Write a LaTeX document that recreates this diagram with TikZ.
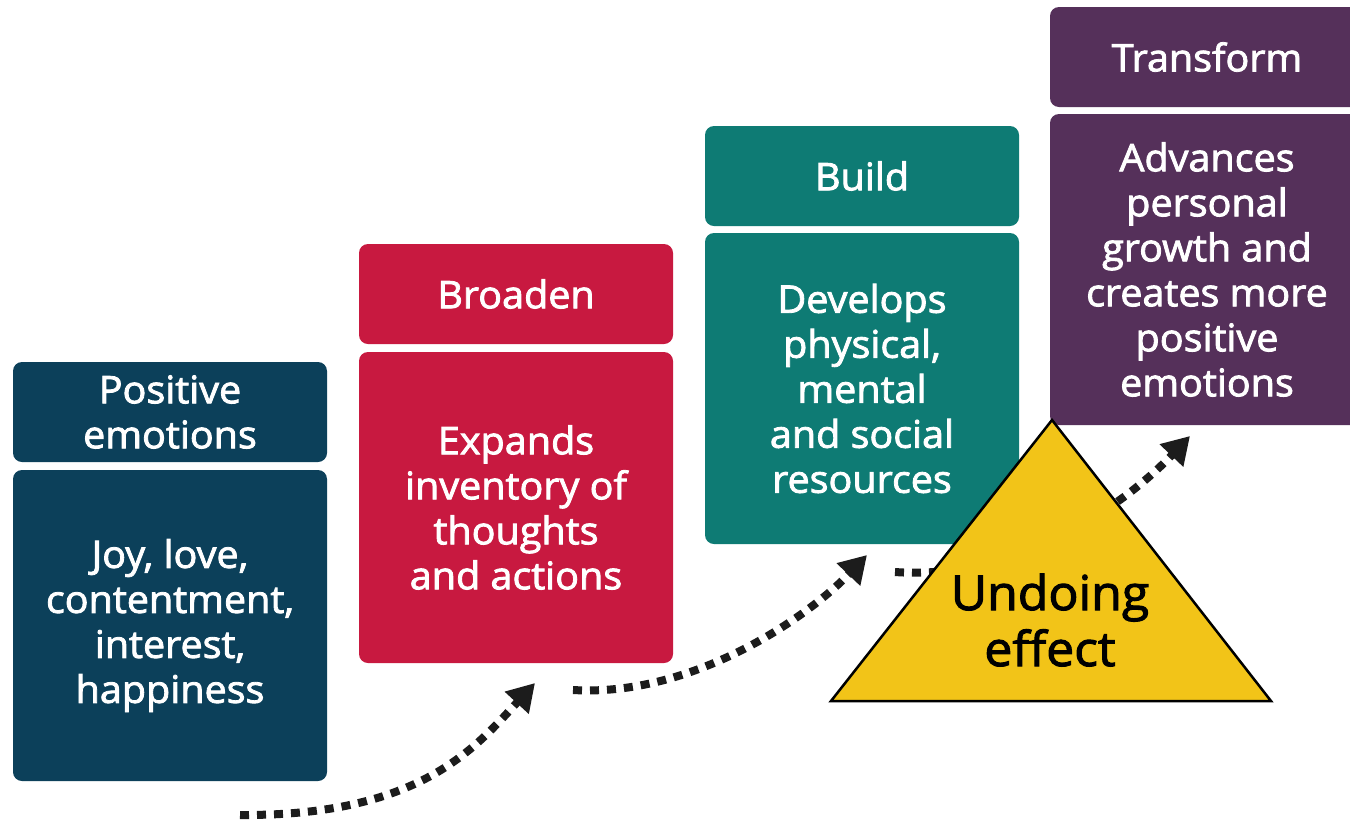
\documentclass[tikz,border=0pt]{standalone}
\usepackage{fontspec}
\usetikzlibrary{arrows.meta}
\newfontfamily\boxfont{Open Sans}[FakeBold=2.2, FakeStretch=1.04]
\newcommand\cardfont{\boxfont\fontsize{38}{45}\selectfont}
\newcommand\undofont{\boxfont\fontsize{48}{56}\selectfont}
\definecolor{navy}{RGB}{12,64,90}
\definecolor{crimson}{RGB}{200,25,64}
\definecolor{tealbox}{RGB}{14,123,116}
\definecolor{plum}{RGB}{85,48,90}
\definecolor{gold}{RGB}{242,196,24}
\definecolor{arrowink}{RGB}{28,28,28}
\tikzset{
  card/.style={rectangle, rounded corners=9pt, inner sep=0pt, outer sep=0pt,
    text=white, font=\cardfont, align=center, anchor=north west, minimum width=314pt},
  headcard/.style={card, minimum height=100pt},
  bodycard/.style={card, minimum height=311pt},
  flow/.style={draw=arrowink, line width=8pt, dash pattern=on 9pt off 8pt,
    -{Triangle[length=27pt,width=31pt]}}
}
\begin{document}
\begin{tikzpicture}[x=1pt,y=-1pt]
\clip (0,0) rectangle (1350,823);
\useasboundingbox (0,0) rectangle (1350,823);
\fill[white] (0,0) rectangle (1350,823);

% four stages, each a title card over a description card
\node[headcard, fill=navy] (pehead) at (13,362) {Positive\\emotions};
\node[bodycard, fill=navy] (pebody) at (13,470) {Joy, love,\\contentment,\\interest,\\happiness};
\node[headcard, fill=crimson] (brhead) at (359,244) {Broaden};
\node[bodycard, fill=crimson] (brbody) at (359,352) {Expands\\inventory of\\thoughts\\and actions};
\node[headcard, fill=tealbox] (buhead) at (705,126) {Build};
\node[bodycard, fill=tealbox] (bubody) at (705,233) {Develops\\physical,\\mental\\and social\\resources};
\node[headcard, fill=plum] (trhead) at (1050,7) {Transform};
\node[bodycard, fill=plum] (trbody) at (1050,114) {Advances\\personal\\growth and\\creates more\\positive\\emotions};

% dotted progression arrows
\coordinate (s1) at (240,815);
\coordinate (t1) at (535,683);
\coordinate (s2) at (573,690);
\coordinate (t2) at (867,555);
\coordinate (s3) at (895,572);
\coordinate (t3) at (1190,436);
\draw[flow] (s1) .. controls (420,816) and (475,748) .. (t1);
\draw[flow] (s2) .. controls (690,697) and (805,620) .. (t2);
\draw[flow] (s3) .. controls (1000,580) and (1110,520) .. (t3);

% undoing effect triangle
\draw[fill=gold, line width=2.5pt, line join=miter] (1052,420) -- (831,701) -- (1271,701) -- cycle;
\node[font=\undofont, align=center, text=black, inner sep=0pt] (undo) at (1050,620) {Undoing\\effect};
\end{tikzpicture}
\end{document}
